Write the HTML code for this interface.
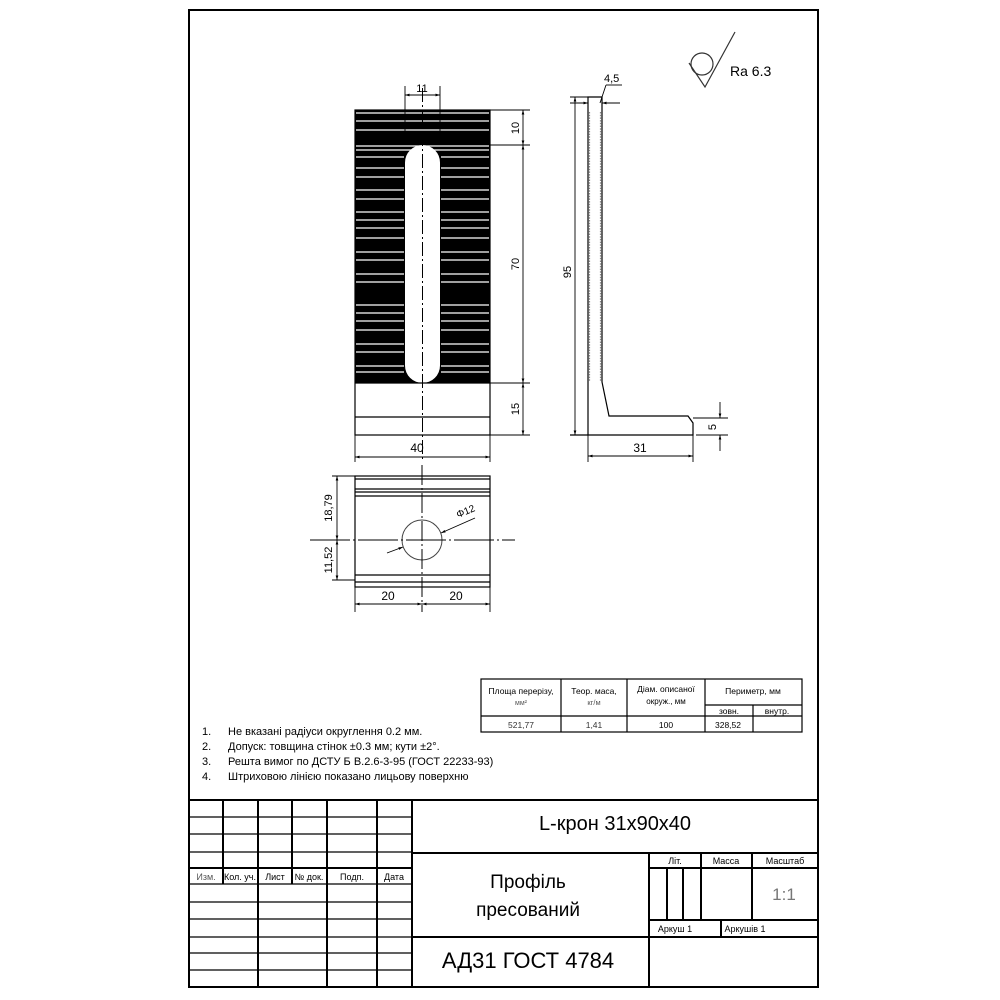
<!DOCTYPE html>
<html><head><meta charset="utf-8"><style>
html,body{margin:0;padding:0;background:#fff;}
svg{display:block;font-family:"Liberation Sans",sans-serif;}
</style></head><body>
<svg width="1000" height="1000" viewBox="0 0 1000 1000" xmlns="http://www.w3.org/2000/svg">
<defs>
<marker id="a" viewBox="0 0 10 10" refX="10" refY="5" markerWidth="7" markerHeight="5" orient="auto-start-reverse"><path d="M0,2 L10,5 L0,8z" fill="#000"/></marker>
</defs>
<rect x="0" y="0" width="1000" height="1000" fill="#fff"/>
<!-- frame -->
<rect x="189" y="10" width="629" height="977" fill="none" stroke="#000" stroke-width="2"/>

<!-- Ra symbol -->
<g stroke="#333" stroke-width="1.2" fill="none">
<circle cx="702" cy="64" r="11"/>
<path d="M689,63 L705,87 L735,32"/>
</g>
<text x="730" y="76" font-size="14" fill="#000">Ra 6.3</text>

<!-- FRONT VIEW -->
<rect x="355" y="110" width="135" height="273" fill="#000"/>
<g stroke="#fff" stroke-width="1.2">
<line x1="356" y1="113" x2="489" y2="113"/><line x1="356" y1="121" x2="489" y2="121"/><line x1="356" y1="130" x2="489" y2="130"/>
<line x1="356" y1="146" x2="489" y2="146"/><line x1="356" y1="150" x2="489" y2="150"/>
<g id="st">
<line x1="356" y1="157" x2="404" y2="157"/><line x1="356" y1="168" x2="404" y2="168"/><line x1="356" y1="177" x2="404" y2="177"/>
<line x1="356" y1="190" x2="404" y2="190"/><line x1="356" y1="199" x2="404" y2="199"/><line x1="356" y1="212" x2="404" y2="212"/>
<line x1="356" y1="220" x2="404" y2="220"/><line x1="356" y1="228" x2="404" y2="228"/><line x1="356" y1="238" x2="404" y2="238"/>
<line x1="356" y1="252" x2="404" y2="252"/><line x1="356" y1="260" x2="404" y2="260"/><line x1="356" y1="274" x2="404" y2="274"/>
<line x1="356" y1="282" x2="404" y2="282"/><line x1="356" y1="305" x2="404" y2="305"/><line x1="356" y1="313" x2="404" y2="313"/>
<line x1="356" y1="321" x2="404" y2="321"/><line x1="356" y1="330" x2="404" y2="330"/><line x1="356" y1="344" x2="404" y2="344"/>
<line x1="356" y1="352" x2="404" y2="352"/><line x1="356" y1="366" x2="404" y2="366"/><line x1="356" y1="372" x2="404" y2="372"/>
</g>
<use href="#st" transform="translate(85,0)"/>
</g>
<rect x="405" y="145" width="35" height="238" rx="17.5" ry="17.5" fill="#fff"/>
<rect x="355" y="110" width="135" height="325" fill="none" stroke="#000" stroke-width="1.2"/>
<line x1="355" y1="383" x2="490" y2="383" stroke="#000" stroke-width="1.2"/>
<line x1="355" y1="417" x2="490" y2="417" stroke="#000" stroke-width="1.2"/>
<line x1="422.5" y1="88" x2="422.5" y2="462" stroke="#000" stroke-width="1" stroke-dasharray="14,3,2,3"/>
<!-- dims front -->
<g stroke="#000" stroke-width="0.9" fill="none">
<line x1="405" y1="86" x2="405" y2="145"/><line x1="440" y1="86" x2="440" y2="145"/>
<line x1="405" y1="95" x2="440" y2="95" marker-start="url(#a)" marker-end="url(#a)"/>
<line x1="490" y1="110" x2="530" y2="110"/><line x1="490" y1="145" x2="530" y2="145"/>
<line x1="490" y1="383" x2="530" y2="383"/><line x1="490" y1="435" x2="530" y2="435"/>
<line x1="523" y1="110" x2="523" y2="145" marker-start="url(#a)" marker-end="url(#a)"/>
<line x1="523" y1="145" x2="523" y2="383" marker-start="url(#a)" marker-end="url(#a)"/>
<line x1="523" y1="383" x2="523" y2="435" marker-start="url(#a)" marker-end="url(#a)"/>
<line x1="355" y1="435" x2="355" y2="462"/><line x1="490" y1="435" x2="490" y2="462"/>
<line x1="355" y1="457" x2="490" y2="457" marker-start="url(#a)" marker-end="url(#a)"/>
</g>
<g font-size="11" fill="#000">
<text x="422" y="92" text-anchor="middle">11</text>
<text x="417" y="452" text-anchor="middle" font-size="12">40</text>
<text transform="translate(519,128) rotate(-90)" text-anchor="middle">10</text>
<text transform="translate(519,264) rotate(-90)" text-anchor="middle">70</text>
<text transform="translate(519,409) rotate(-90)" text-anchor="middle">15</text>
</g>

<!-- SIDE VIEW -->
<g stroke="#000" stroke-width="1.2" fill="none">
<path d="M588,97 L588,435 L693,435 L693,423 L688,416 L609,416 L602,382 L602,97 Z"/>
<line x1="570" y1="435" x2="588" y2="435"/>
</g>
<g stroke="#888" stroke-width="1.2" stroke-dasharray="1.5,1.2">
<line x1="589.5" y1="112" x2="589.5" y2="382"/><line x1="600.5" y1="112" x2="600.5" y2="382"/>
</g>
<g stroke="#000" stroke-width="0.9" fill="none">
<line x1="570" y1="97" x2="588" y2="97"/>
<line x1="575" y1="97" x2="575" y2="435" marker-start="url(#a)" marker-end="url(#a)"/>
<line x1="570" y1="103" x2="588" y2="103" marker-end="url(#a)"/>
<line x1="620" y1="103" x2="602" y2="103" marker-end="url(#a)"/>
<line x1="588" y1="97" x2="588" y2="108"/>
<line x1="600" y1="103" x2="606" y2="85"/><line x1="606" y1="85" x2="622" y2="85"/>
<line x1="588" y1="435" x2="588" y2="462"/><line x1="693" y1="435" x2="693" y2="462"/>
<line x1="588" y1="456" x2="693" y2="456" marker-start="url(#a)" marker-end="url(#a)"/>
<line x1="693" y1="418" x2="728" y2="418"/><line x1="696" y1="435" x2="728" y2="435"/>
<line x1="720" y1="402" x2="720" y2="418" marker-end="url(#a)"/>
<line x1="720" y1="451" x2="720" y2="435" marker-end="url(#a)"/>
</g>
<g font-size="11" fill="#000">
<text x="604" y="82">4,5</text>
<text transform="translate(571,272) rotate(-90)" text-anchor="middle">95</text>
<text x="640" y="452" text-anchor="middle" font-size="12">31</text>
<text transform="translate(716,427) rotate(-90)" text-anchor="middle">5</text>
</g>

<!-- BOTTOM VIEW -->
<g stroke="#000" stroke-width="1.2" fill="none">
<rect x="355" y="476" width="135" height="111"/>
<line x1="355" y1="479" x2="490" y2="479"/>
<line x1="355" y1="489" x2="490" y2="489"/><line x1="355" y1="492" x2="490" y2="492"/>
<line x1="355" y1="496" x2="490" y2="496"/>
<line x1="355" y1="575" x2="490" y2="575"/><line x1="355" y1="582" x2="490" y2="582"/>
</g>
<circle cx="422" cy="540" r="20" fill="none" stroke="#444" stroke-width="1"/>
<line x1="310" y1="540" x2="515" y2="540" stroke="#000" stroke-width="1" stroke-dasharray="40,3,2,3"/>
<line x1="422" y1="465" x2="422" y2="612" stroke="#000" stroke-width="1" stroke-dasharray="20,3,2,3"/>
<g stroke="#000" stroke-width="0.9" fill="none">
<line x1="387" y1="553" x2="403" y2="547" marker-end="url(#a)"/>
<line x1="475" y1="518" x2="441" y2="533" marker-end="url(#a)"/>
<line x1="332" y1="476" x2="355" y2="476"/><line x1="332" y1="580" x2="355" y2="580"/>
<line x1="337" y1="476" x2="337" y2="540" marker-start="url(#a)" marker-end="url(#a)"/>
<line x1="337" y1="540" x2="337" y2="580" marker-start="url(#a)" marker-end="url(#a)"/>
<line x1="355" y1="587" x2="355" y2="612"/><line x1="490" y1="587" x2="490" y2="612"/>
<line x1="355" y1="604" x2="422" y2="604" marker-start="url(#a)" marker-end="url(#a)"/>
<line x1="422" y1="604" x2="490" y2="604" marker-start="url(#a)" marker-end="url(#a)"/>
</g>
<g font-size="11" fill="#000">
<text transform="translate(458,518) rotate(-22)" font-size="10">Φ12</text>
<text transform="translate(332,508) rotate(-90)" text-anchor="middle">18,79</text>
<text transform="translate(332,560) rotate(-90)" text-anchor="middle">11,52</text>
<text x="388" y="600" text-anchor="middle" font-size="12">20</text>
<text x="456" y="600" text-anchor="middle" font-size="12">20</text>
</g>

<!-- TABLE -->
<g stroke="#000" stroke-width="1.2" fill="none">
<rect x="481" y="679" width="321" height="53"/>
<line x1="481" y1="716" x2="802" y2="716"/>
<line x1="561" y1="679" x2="561" y2="732"/><line x1="627" y1="679" x2="627" y2="732"/>
<line x1="705" y1="679" x2="705" y2="732"/><line x1="705" y1="705" x2="802" y2="705"/>
<line x1="753" y1="705" x2="753" y2="732"/>
</g>
<g font-size="8.5" fill="#000" text-anchor="middle">
<text x="521" y="694">Площа перерізу,</text><text x="521" y="705" font-size="7" fill="#555">мм²</text>
<text x="594" y="694">Теор. маса,</text><text x="594" y="705" font-size="7.5" fill="#555">кг/м</text>
<text x="666" y="692">Діам. описаної</text><text x="666" y="704" font-size="8">окруж., мм</text>
<text x="753" y="694">Периметр, мм</text>
<text x="729" y="714">зовн.</text><text x="777" y="714">внутр.</text>
<text x="521" y="728" fill="#333">521,77</text><text x="594" y="728" fill="#333">1,41</text>
<text x="666" y="728">100</text><text x="728" y="728">328,52</text>
</g>

<!-- NOTES -->
<g font-size="11" fill="#000">
<text x="202" y="735">1.</text><text x="228" y="735">Не вказані радіуси округлення 0.2 мм.</text>
<text x="202" y="750">2.</text><text x="228" y="750">Допуск: товщина стінок ±0.3 мм; кути ±2°.</text>
<text x="202" y="765">3.</text><text x="228" y="765">Решта вимог по ДСТУ Б В.2.6-3-95 (ГОСТ 22233-93)</text>
<text x="202" y="780">4.</text><text x="228" y="780">Штриховою лінією показано лицьову поверхню</text>
</g>

<!-- TITLE BLOCK -->
<g stroke="#000" stroke-width="2" fill="none">
<line x1="189" y1="800" x2="818" y2="800"/>
<line x1="189" y1="868" x2="412" y2="868"/>
<line x1="223" y1="800" x2="223" y2="884"/><line x1="292" y1="800" x2="292" y2="884"/>
<line x1="258" y1="800" x2="258" y2="987"/><line x1="327" y1="800" x2="327" y2="987"/>
<line x1="377" y1="800" x2="377" y2="987"/><line x1="412" y1="800" x2="412" y2="987"/>
<line x1="412" y1="853" x2="818" y2="853"/><line x1="412" y1="937" x2="818" y2="937"/>
<line x1="649" y1="853" x2="649" y2="987"/>
<line x1="649" y1="868" x2="818" y2="868"/><line x1="649" y1="920" x2="818" y2="920"/>
<line x1="667" y1="868" x2="667" y2="920"/><line x1="683" y1="868" x2="683" y2="920"/>
<line x1="701" y1="853" x2="701" y2="920"/><line x1="752" y1="853" x2="752" y2="920"/>
<line x1="721" y1="920" x2="721" y2="937"/>
</g>
<g stroke="#000" stroke-width="1.2">
<line x1="189" y1="817" x2="412" y2="817"/><line x1="189" y1="834" x2="412" y2="834"/>
<line x1="189" y1="852" x2="412" y2="852"/><line x1="189" y1="884" x2="412" y2="884"/>
<line x1="189" y1="902" x2="412" y2="902"/><line x1="189" y1="919" x2="412" y2="919"/>
<line x1="189" y1="937" x2="412" y2="937"/><line x1="189" y1="953" x2="412" y2="953"/>
<line x1="189" y1="970" x2="412" y2="970"/>
</g>
<g font-size="9" fill="#000" text-anchor="middle">
<text x="206" y="880" fill="#555">Изм.</text><text x="240" y="880">Кол. уч.</text><text x="275" y="880">Лист</text>
<text x="309" y="880">№ док.</text><text x="352" y="880">Подп.</text><text x="394" y="880">Дата</text>
<text x="675" y="864">Літ.</text><text x="726" y="864">Масса</text><text x="785" y="864">Масштаб</text>
<text x="675" y="932">Аркуш 1</text><text x="745" y="932">Аркушів 1</text>
</g>
<text x="784" y="900" font-size="17" fill="#777" text-anchor="middle">1:1</text>
<text x="615" y="830" font-size="20" fill="#000" text-anchor="middle">L-крон 31x90x40</text>
<text x="528" y="888" font-size="19" fill="#000" text-anchor="middle">Профіль</text>
<text x="528" y="916" font-size="19" fill="#000" text-anchor="middle">пресований</text>
<text x="528" y="968" font-size="22" fill="#000" text-anchor="middle">АД31 ГОСТ 4784</text>
</svg>
</body></html>
